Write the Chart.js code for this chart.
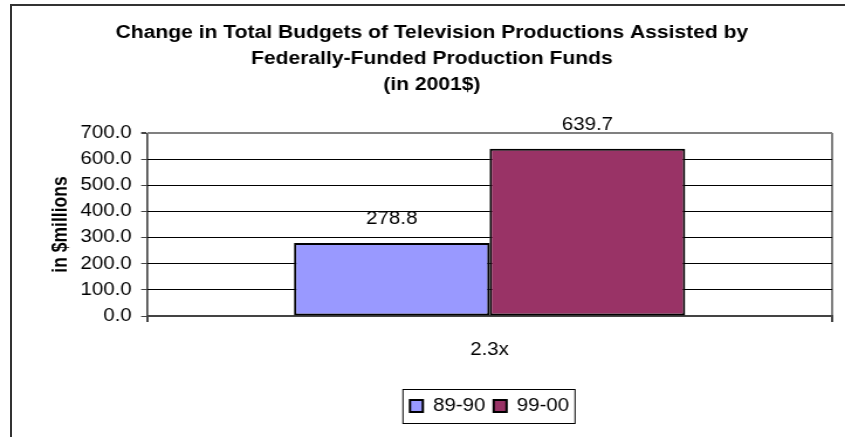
<!DOCTYPE html>
<html>
<head>
<meta charset="utf-8">
<title>Television production budgets</title>
<script src="https://cdn.jsdelivr.net/npm/chart.js@4.4.1/dist/chart.umd.min.js"></script>
<style>
    html, body { margin: 0; padding: 0; background: #fff; overflow: hidden; }
    #frame {
        position: absolute; left: 10px; top: 4px;
        width: 900px; height: 500px;
        border: 2px solid #333; box-sizing: border-box;
    }
    /* chart is laid out 722px wide and stretched to fill 845px */
    #wrap {
        position: absolute; left: 0; top: 0;
        width: 722px; height: 437px;
        transform: scaleX(1.1704); transform-origin: 0 0;
    }
</style>
</head>
<body>
<div id="frame"></div>
<div id="wrap"><canvas id="budgetChart"></canvas></div>
<script>
const categories = ['2.3x'];
const seriesNames = ['89-90', '99-00'];
const budgets8990 = [278.8];
const budgets9900 = [639.7];
const yTickValues = [0, 100, 200, 300, 400, 500, 600, 700];
const titleLines = [
    'Change in Total Budgets of Television Productions Assisted by',
    'Federally-Funded Production Funds',
    '(in 2001$)'
];

const FONT = "Arial, 'Liberation Sans', sans-serif";

// value printed above each bar
const valueLabels = {
    id: 'valueLabels',
    afterDatasetsDraw(chart) {
        const ctx = chart.ctx;
        ctx.save();
        ctx.font = '17.5px ' + FONT;
        ctx.fillStyle = '#000';
        ctx.textAlign = 'center';
        ctx.textBaseline = 'middle';
        chart.data.datasets.forEach((ds, i) => {
            chart.getDatasetMeta(i).data.forEach((bar, j) => {
                ctx.fillText(ds.data[j].toFixed(1), bar.x, bar.y - 24);
            });
        });
        ctx.restore();
    }
};

// thin box round the legend items
const legendFrame = {
    id: 'legendFrame',
    afterDraw(chart) {
        const boxes = chart.legend.legendHitBoxes;
        if (!boxes || !boxes.length) return;
        const first = boxes[0];
        const last = boxes[boxes.length - 1];
        const cy = first.top + first.height / 2;
        const ctx = chart.ctx;
        ctx.save();
        ctx.strokeStyle = '#000';
        ctx.lineWidth = 1;
        ctx.strokeRect(first.left - 6, Math.round(cy - 17) + 0.5, last.left + last.width + 5 - (first.left - 6), 34);
        ctx.restore();
    }
};

const ctx = document.getElementById('budgetChart').getContext('2d');
const budgetChart = new Chart(ctx, {
    type: 'bar',
    data: {
        labels: categories,
        datasets: [{
            label: seriesNames[0],
            data: budgets8990,
            backgroundColor: '#9999ff',
            borderColor: '#000',
            borderWidth: 2,
            borderSkipped: false
        }, {
            label: seriesNames[1],
            data: budgets9900,
            backgroundColor: '#993366',
            borderColor: '#000',
            borderWidth: 2,
            borderSkipped: false
        }]
    },
    options: {
        responsive: true,
        maintainAspectRatio: false,
        animation: false,
        layout: { padding: { left: 27, right: 11, top: 0, bottom: 12.25 } },
        datasets: { bar: { categoryPercentage: 0.571, barPercentage: 1 } },
        plugins: {
            title: {
                display: true,
                text: titleLines,
                color: '#000',
                font: { family: FONT, size: 18, weight: 'bold', lineHeight: 26 / 18 },
                padding: { top: 20, bottom: 35 }
            },
            legend: {
                position: 'bottom',
                fullSize: false,
                labels: {
                    color: '#000',
                    boxWidth: 11,
                    boxHeight: 12,
                    padding: 7,
                    font: { family: FONT, size: 17.5 }
                }
            },
            tooltip: { enabled: false }
        },
        scales: {
            x: {
                grid: {
                    drawOnChartArea: true,
                    color: '#808080',
                    lineWidth: 2,
                    tickColor: '#444',
                    tickLength: 6
                },
                border: { color: '#444', width: 2 },
                ticks: {
                    color: '#000',
                    padding: 17.5,
                    font: { family: FONT, size: 17.5 }
                },
                afterFit(scale) { scale.height = 74.25; }
            },
            y: {
                min: 0,
                max: 700,
                afterBuildTicks(scale) {
                    scale.ticks = yTickValues.map(v => ({ value: v }));
                },
                grid: {
                    color: c => c.tick && c.tick.value === 700 ? '#808080' : '#000',
                    lineWidth: c => c.tick && c.tick.value === 700 ? 2 : 1,
                    tickColor: '#444',
                    tickLength: 5
                },
                border: { color: '#444', width: 1 },
                ticks: {
                    color: '#000',
                    padding: 8,
                    font: { family: FONT, size: 17.5 },
                    callback: v => Number(v).toFixed(1)
                },
                title: {
                    display: true,
                    text: 'in $millions',
                    color: '#000',
                    font: { family: FONT, size: 17.5, weight: 'bold' },
                    padding: { top: 15, bottom: 0 }
                },
                afterFit(scale) { scale.width = 98.6; }
            }
        }
    },
    plugins: [valueLabels, legendFrame]
});
</script>
</body>
</html>
